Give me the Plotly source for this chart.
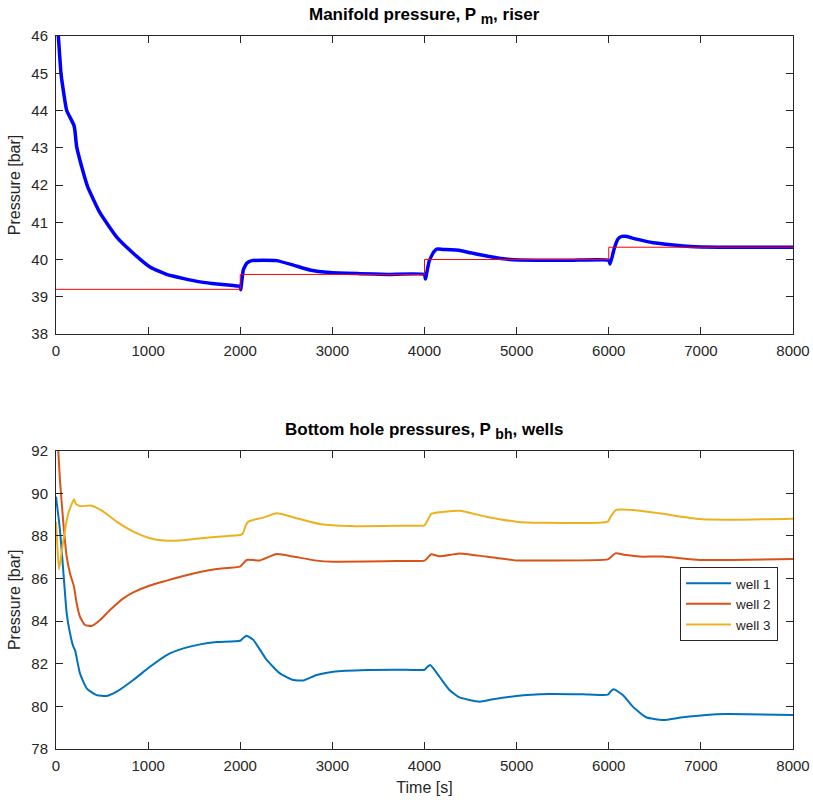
import plotly.graph_objects as go

# ---------------- data ----------------
pm_t = [0, 25, 54, 85, 116, 160, 195, 206, 224, 279, 344, 478, 659, 838, 1020, 1200, 1400, 1563, 1750, 1925,
        2000, 2005, 2033, 2070, 2124, 2250, 2395, 2576, 2757, 2974, 3300, 3600, 4000,
        4010, 4050, 4100, 4133, 4200, 4386, 4500, 4700, 4929, 5200, 5600, 6000,
        6015, 6060, 6100, 6141, 6200, 6250, 6350, 6484, 6700, 6883, 7200, 7600, 8000]
pm_v = [46.6, 46.0, 45.0, 44.45, 44.0, 43.78, 43.6, 43.45, 43.03, 42.49, 41.95, 41.25, 40.6, 40.17, 39.8, 39.6,
        39.48, 39.4, 39.34, 39.3,
        39.28, 39.19, 39.72, 39.9, 39.97, 39.98, 39.97, 39.85, 39.72, 39.65, 39.62, 39.6, 39.6,
        39.48, 39.95, 40.2, 40.28, 40.27, 40.24, 40.18, 40.08, 40.0, 39.98, 39.98, 39.98,
        39.88, 40.3, 40.55, 40.62, 40.62, 40.58, 40.52, 40.45, 40.39, 40.35, 40.33, 40.33, 40.33]

ref_t = [0, 2000, 4000, 6000, 8000]
ref_v = [39.2, 39.6, 40.0, 40.33, 40.33]

w1_t = [0, 43, 80, 116, 152, 188, 206, 260, 333, 441, 550, 658, 839, 1020, 1201, 1382, 1563, 1744, 1997,
        2030, 2069, 2142, 2287, 2431, 2576, 2685, 2829, 3010, 3372, 3734, 4000, 4030, 4062, 4163, 4271,
        4380, 4597, 4742, 4995, 5357, 5718, 5990, 6020, 6055, 6153, 6261, 6406, 6587, 6804, 7057, 7274, 8000]
w1_v = [89.84, 88.28, 86.3, 84.37, 83.43, 82.8, 82.65, 81.55, 80.85, 80.53, 80.49, 80.69, 81.24, 81.86, 82.41,
        82.72, 82.91, 83.02, 83.08, 83.2, 83.32, 83.12, 82.18, 81.55, 81.24, 81.22, 81.47, 81.63, 81.71, 81.72,
        81.72, 81.85, 81.94, 81.39, 80.77, 80.42, 80.22, 80.33, 80.49, 80.58, 80.57, 80.55, 80.7, 80.8, 80.53,
        79.99, 79.49, 79.36, 79.49, 79.6, 79.64, 79.6]

w2_t = [0, 25, 43, 80, 116, 152, 195, 224, 260, 315, 387, 478, 586, 731, 839, 1020, 1201, 1382, 1563, 1744,
        1997, 2030, 2069, 2142, 2214, 2395, 2576, 2829, 3010, 3734, 4000, 4030, 4072, 4163, 4380, 4669, 4995,
        5357, 5990, 6020, 6073, 6189, 6334, 6587, 6985, 7346, 8000]
w2_v = [94.0, 92.0, 90.62, 88.59, 87.03, 86.24, 85.62, 84.84, 84.21, 83.82, 83.77, 84.05, 84.52, 85.07, 85.35,
        85.67, 85.9, 86.12, 86.31, 86.45, 86.56, 86.7, 86.87, 86.87, 86.85, 87.15, 87.03, 86.84, 86.79, 86.82,
        86.84, 86.95, 87.14, 87.04, 87.18, 87.03, 86.85, 86.85, 86.9, 87.0, 87.18, 87.1, 87.03, 87.03, 86.87,
        86.87, 86.92]

w3_t = [0, 15, 33, 80, 134, 195, 215, 260, 387, 514, 658, 839, 1020, 1165, 1382, 1744, 1997, 2026, 2060,
        2088, 2142, 2250, 2395, 2648, 2865, 3191, 3734, 4000, 4030, 4072, 4163, 4380, 4669, 4995, 5284, 5990,
        6020, 6080, 6261, 6550, 6985, 7346, 8000]
w3_v = [88.67, 87.5, 86.43, 87.8, 89.06, 89.72, 89.5, 89.4, 89.42, 89.14, 88.67, 88.2, 87.89, 87.78, 87.8,
        87.96, 88.04, 88.1, 88.5, 88.67, 88.75, 88.86, 89.06, 88.79, 88.56, 88.46, 88.48, 88.5, 88.7, 89.03,
        89.11, 89.18, 88.9, 88.67, 88.62, 88.67, 88.9, 89.22, 89.22, 89.06, 88.79, 88.76, 88.81]

legend_names = ["well 1", "well 2", "well 3"]
x_ticks = [0, 1000, 2000, 3000, 4000, 5000, 6000, 7000, 8000]

# ---------------- figure ----------------
FONT = "Liberation Sans, Arial, Helvetica, sans-serif"
AX = "#262626"

fig = go.Figure()
fig.add_trace(go.Scatter(x=pm_t, y=pm_v, mode="lines",
                         line=dict(color="#0000FF", width=3.5, shape="spline", smoothing=0.4),
                         showlegend=False, xaxis="x", yaxis="y"))
fig.add_trace(go.Scatter(x=ref_t, y=ref_v, mode="lines", line=dict(color="#FF0000", width=1, shape="hv"),
                         showlegend=False, xaxis="x", yaxis="y"))

cols = ["#0072BD", "#D95319", "#EDB120"]
for t, v, c, n in zip([w1_t, w2_t, w3_t], [w1_v, w2_v, w3_v], cols, legend_names):
    fig.add_trace(go.Scatter(x=t, y=v, mode="lines", name=n,
                             line=dict(color=c, width=2, shape="spline", smoothing=0.5),
                             xaxis="x2", yaxis="y2"))

axis_common = dict(showline=True, linecolor=AX, linewidth=1, mirror="ticks", ticks="inside",
                   ticklen=7, tickcolor=AX, tickwidth=1, showgrid=False, zeroline=False,
                   automargin=False, tickfont=dict(family=FONT, size=15, color=AX))

fig.update_layout(
    width=813, height=800,
    margin=dict(l=56, r=20, t=36, b=51),
    plot_bgcolor="white", paper_bgcolor="white",
    font=dict(family=FONT, color=AX),
    xaxis=dict(domain=[0, 1], range=[0, 8000], tickvals=x_ticks, anchor="y",
               ticklabelstandoff=3, **axis_common),
    yaxis=dict(domain=[0.582, 1], range=[38, 46], dtick=1, anchor="x", ticklabelstandoff=4,
               title=dict(text="Pressure [bar]", font=dict(family=FONT, size=16, color=AX), standoff=6),
               **axis_common),
    xaxis2=dict(domain=[0, 1], range=[0, 8000], tickvals=x_ticks, anchor="y2", ticklabelstandoff=3,
                title=dict(text="Time [s]", font=dict(family=FONT, size=16, color=AX), standoff=8),
                **axis_common),
    yaxis2=dict(domain=[0, 0.4184], range=[78, 92], dtick=2, anchor="x2", ticklabelstandoff=4,
                title=dict(text="Pressure [bar]", font=dict(family=FONT, size=16, color=AX), standoff=6),
                **axis_common),
    legend=dict(x=(680 - 56) / 737, xanchor="left", y=1 - (567 - 36) / 713, yanchor="top",
                bgcolor="white", bordercolor=AX, borderwidth=1, itemwidth=45,
                font=dict(family=FONT, size=13.5, color=AX), tracegroupgap=0),
    annotations=[
        dict(text="<b>Manifold pressure, P <sub><span style='font-size:14px'>m</span></sub>, riser</b>",
             xref="paper", yref="paper",
             x=0.5, y=1, yanchor="bottom", yshift=7, showarrow=False,
             font=dict(family=FONT, size=17, color="black")),
        dict(text="<b>Bottom hole pressures, P <sub><span style='font-size:14px'>bh</span></sub>, wells</b>",
             xref="paper", yref="paper",
             x=0.5, y=0.4184, yanchor="bottom", yshift=7, showarrow=False,
             font=dict(family=FONT, size=17, color="black")),
    ],
)

fig.write_html("out.html")
